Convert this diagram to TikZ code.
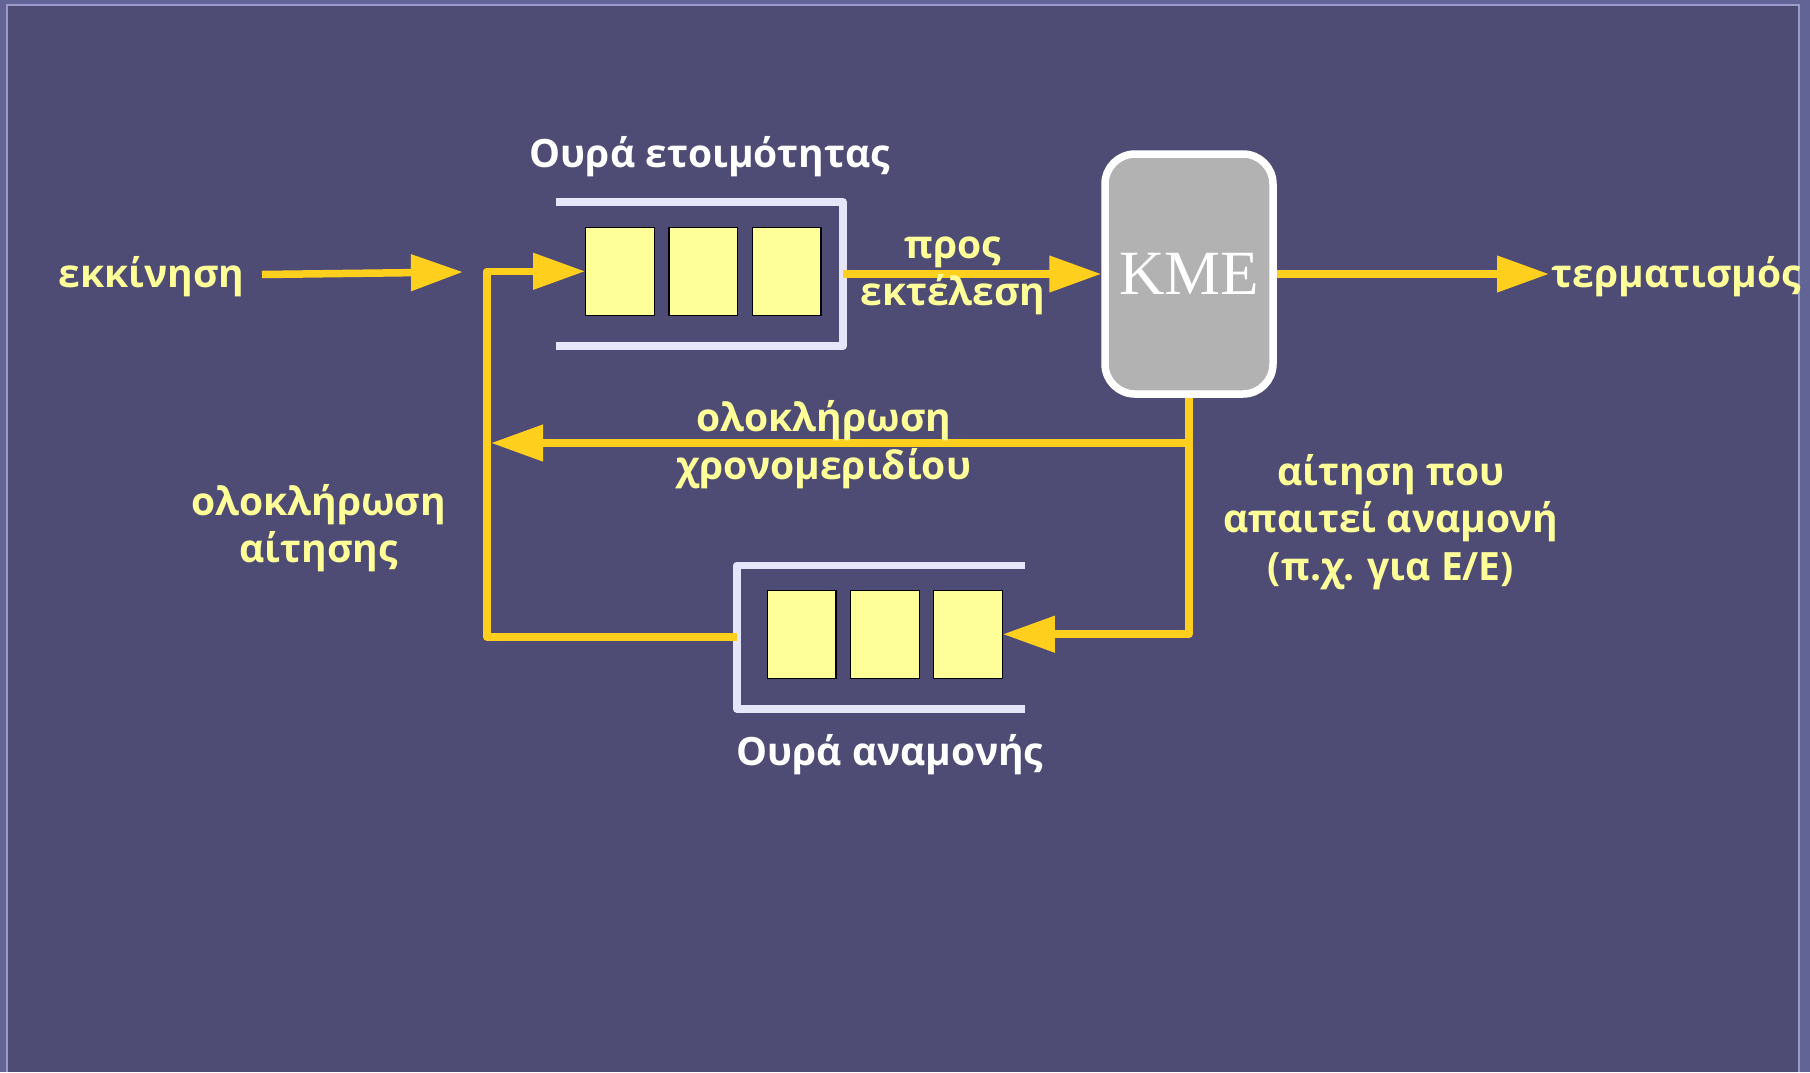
\documentclass[tikz,border=0pt]{standalone}
\usepackage{fontspec}
\setmainfont{Open Sans}
\newfontfamily\kmefont{Liberation Serif}
\usetikzlibrary{arrows.meta}
\definecolor{bandcol}{HTML}{636496}
\definecolor{framecol}{HTML}{9B9BCB}
\definecolor{bgcol}{HTML}{4E4C75}
\definecolor{gold}{HTML}{FFCF1E}
\definecolor{textyel}{HTML}{FFFF99}
\definecolor{slotcol}{HTML}{FFFF99}
\definecolor{bracketcol}{HTML}{E6E6FA}
\definecolor{kmegrey}{HTML}{B2B2B2}
\begin{document}
\begin{tikzpicture}[x=1pt,y=-1pt,
  flow/.style={draw=gold,line width=7.5pt,line join=round,-{Triangle[length=52pt,width=35pt]}},
  bracket/.style={draw=bracketcol,line width=7.5pt,line join=round},
  slot/.style={draw=black,line width=1.2pt,fill=slotcol,minimum width=68.6pt,minimum height=88pt,inner sep=0pt},
  lbl/.style={text=textyel,font=\bfseries\fontsize{39}{47.5}\selectfont,align=center,inner sep=0pt},
  qtitle/.style={lbl,text=white}]
\useasboundingbox (0,0) rectangle (1810,1072);
\fill[bandcol] (0,0) rectangle (1810,1072);
\fill[framecol] (6,4) rectangle (1800,1072);
\fill[bgcol] (8,6) rectangle (1798,1072);

\draw[bracket] (556,202) -- (843,202) -- (843,346) -- (556,346);
\draw[bracket] (1025,565.3) -- (737,565.3) -- (737,709) -- (1025,709);

\node[slot] (r1) at (620,271.3) {};
\node[slot] (r2) at (703.3,271.3) {};
\node[slot] (r3) at (786.7,271.3) {};
\node[slot] (w1) at (801.7,634.2) {};
\node[slot] (w2) at (884.9,634.2) {};
\node[slot] (w3) at (968,634.2) {};

\node[draw=white,line width=7.5pt,fill=kmegrey,rounded corners=30pt,minimum width=168pt,minimum height=240pt,inner sep=0pt,
  text=white,font=\kmefont\fontsize{63}{63}\selectfont] (kme) at (1189,274) {KME};

\coordinate (src) at (262,274.5);
\coordinate (srcend) at (463,272);
\coordinate (loop) at (487,271.3);
\coordinate (wqout) at (737,637);
\coordinate (rqout) at (843,274);
\coordinate (sink) at (1549,274);
\coordinate (slice) at (491,443);

\draw[flow] (src) -- (srcend);
\draw[flow] (wqout) -| (loop) -- (r1.west);
\draw[flow] (rqout) -- (kme.west);
\draw[flow] (kme.east) -- (sink);
\draw[flow] (kme.south) |- (w3.east);
\draw[flow] (kme.south |- slice) -- (slice);

\node[qtitle] (rqname) at (710,157) {Ουρά ετοιμότητας};
\node[qtitle] (wqname) at (890,755) {Ουρά αναμονής};
\node[lbl] (start) at (151.7,277) {εκκίνηση};
\node[lbl,anchor=west] (stop) at (1551.7,277) {τερματισμός};
\node[lbl] (dispatch) at (953,276) {προς\\εκτέλεση};
\node[lbl] (timeout) at (824,444.5) {ολοκλήρωση\\χρονομεριδίου};
\node[lbl] (iodone) at (318.6,528) {ολοκλήρωση\\αίτησης};
\node[lbl] (iowait) at (1391,522) {αίτηση που\\απαιτεί αναμονή\\(π.χ. για Ε/Ε)};
\end{tikzpicture}
\end{document}
